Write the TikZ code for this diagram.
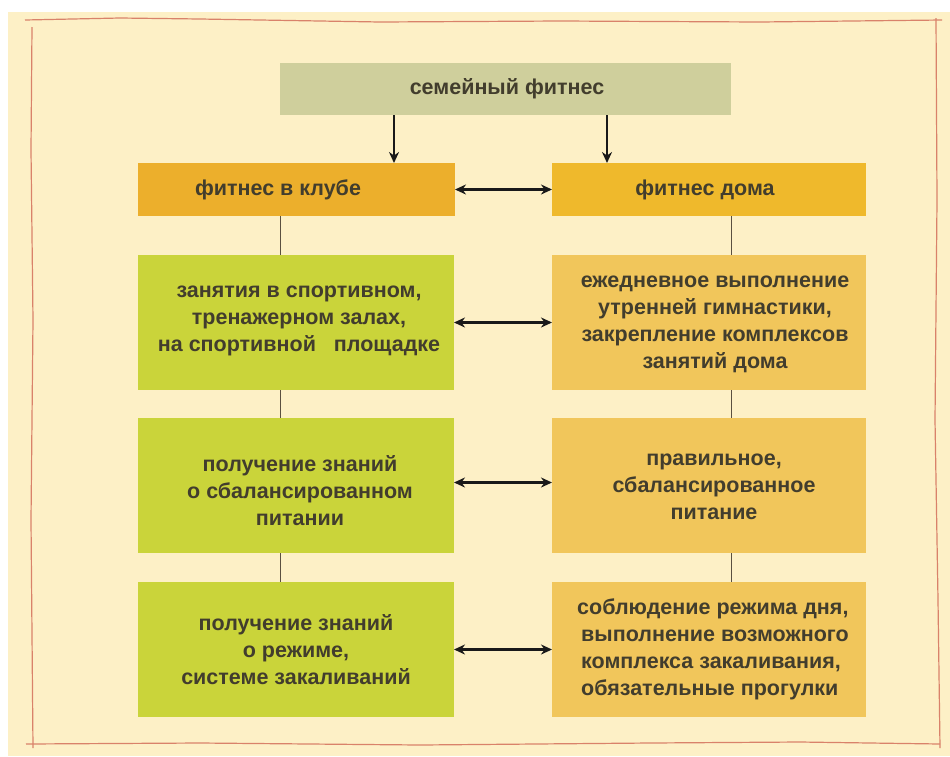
\documentclass[tikz,border=0pt]{standalone}
\usepackage{fontspec}
\setmainfont{Liberation Sans}
\usetikzlibrary{arrows.meta}
\definecolor{bgcream}{HTML}{FDF0C6}
\definecolor{topfill}{HTML}{CFCF9C}
\definecolor{orfill}{HTML}{ECAF2C}
\definecolor{orfillb}{HTML}{EFB92C}
\definecolor{grfill}{HTML}{CAD43A}
\definecolor{ylfill}{HTML}{F1C65B}
\definecolor{txt}{HTML}{423D2D}
\definecolor{redline}{HTML}{D9826A}
\definecolor{conn}{HTML}{5A5040}
\tikzset{
  box/.style={inner sep=0pt, outer sep=0pt, anchor=north west},
  lbl/.style={text=txt, font=\bfseries\fontsize{21.5}{27}\selectfont, align=center, inner sep=0pt},
  dbl/.style={{Stealth[length=11pt,width=10pt]}-{Stealth[length=11pt,width=10pt]}, line width=2.6pt, draw=black!90},
  down/.style={-{Stealth[length=11pt,width=10pt]}, line width=2.4pt, draw=black!90},
  vline/.style={draw=conn, line width=1pt},
  border/.style={draw=redline, line width=1.2pt}
}
\begin{document}
\begin{tikzpicture}[x=1pt,y=-1pt]
\useasboundingbox (0,0) rectangle (950,756);
\fill[white] (0,0) rectangle (950,756);
\fill[bgcream] (8,12) rectangle (950,756);
% hand-drawn border
\draw[border] (25,20) -- (120,18) -- (200,19) -- (380,22) -- (560,21) -- (760,22) -- (942,20);
\draw[border] (32,27) -- (31,150) -- (33,320) -- (31,520) -- (33,748);
\draw[border] (26,744) -- (200,743) -- (420,745) -- (650,743) -- (800,742) -- (940,744);
\draw[border] (936,18) -- (937,200) -- (935,420) -- (938,600) -- (940,748);
% boxes
\node[box, fill=topfill, minimum width=451pt, minimum height=52pt] (top) at (280,63) {};
\node[box, fill=orfill, minimum width=317pt, minimum height=53pt] (club) at (138,163) {};
\node[box, fill=orfillb, minimum width=314pt, minimum height=53pt] (home) at (552,163) {};
\node[box, fill=grfill, minimum width=316pt, minimum height=135pt] (l1) at (138,255) {};
\node[box, fill=ylfill, minimum width=314pt, minimum height=135pt] (r1) at (552,255) {};
\node[box, fill=grfill, minimum width=316pt, minimum height=135pt] (l2) at (138,418) {};
\node[box, fill=ylfill, minimum width=314pt, minimum height=135pt] (r2) at (552,418) {};
\node[box, fill=grfill, minimum width=316pt, minimum height=135pt] (l3) at (138,582) {};
\node[box, fill=ylfill, minimum width=314pt, minimum height=135pt] (r3) at (552,582) {};
% texts
\node[lbl] (ttop) at (507,89) {семейный фитнес};
\node[lbl] (tclub) at (278,190) {фитнес в клубе};
\node[lbl] (thome) at (705,190) {фитнес дома};
\node[lbl] (tl1) at (299,321) {занятия в спортивном,\\тренажерном залах,\\на спортивной \ \ площадке};
\node[lbl] (tr1) at (715,324) {ежедневное выполнение\\утренней гимнастики,\\закрепление комплексов\\занятий дома};
\node[lbl] (tl2) at (300,491) {получение знаний\\о сбалансированном\\питании};
\node[lbl] (tr2) at (714,487) {правильное,\\сбалансированное\\питание};
\node[lbl] (tl3) at (296,650) {получение знаний\\о режиме,\\системе закаливаний};
\node[lbl, align=left, anchor=west] (tr3) at (577,649) {соблюдение режима дня,\\\hspace*{4pt}выполнение возможного\\\hspace*{4pt}комплекса закаливания,\\\hspace*{4pt}обязательные прогулки};
% connectors
\draw[down] (top.south -| 394,0) -- (club.north -| 394,0);
\draw[down] (top.south -| 607,0) -- (home.north -| 607,0);
\draw[dbl] (club.east) -- (home.west);
\draw[dbl] (l1.east) -- (r1.west);
\draw[dbl] ([yshift=3pt]l2.east) -- ([yshift=3pt]r2.west);
\draw[dbl] (l3.east) -- (r3.west);
\draw[vline] (club.south -| 280,0) -- (l1.north -| 280,0);
\draw[vline] (l1.south -| 280,0) -- (l2.north -| 280,0);
\draw[vline] (l2.south -| 280,0) -- (l3.north -| 280,0);
\draw[vline] (home.south -| 731,0) -- (r1.north -| 731,0);
\draw[vline] (r1.south -| 731,0) -- (r2.north -| 731,0);
\draw[vline] (r2.south -| 731,0) -- (r3.north -| 731,0);
\end{tikzpicture}
\end{document}
